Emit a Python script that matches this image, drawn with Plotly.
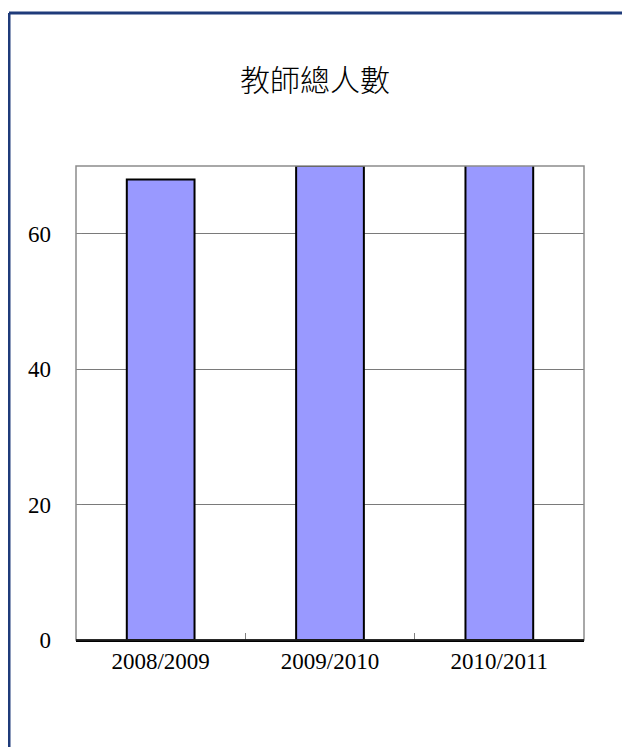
import plotly.graph_objects as go

categories = ["2008/2009", "2009/2010", "2010/2011"]
teachers = [68, 70, 72]
y_ticks = [0, 20, 40, 60]
title_text = "教師總人數"

# page body has an 8px margin, so the figure is offset by 8px
OFF = 8
W, H = 630 - OFF, 747 - OFF
L, R, T, B = 76 - OFF, 46, 166 - OFF, 107
pw, ph = W - L - R, H - T - B

def px_x(x):
    return (x - OFF - L) / pw

def px_y(y):
    return (H - B - (y - OFF)) / ph

fig = go.Figure(go.Bar(
    x=categories, y=teachers,
    marker=dict(color="#9999FF", line=dict(color="#000000", width=2)),
    width=0.4,
))

fig.update_layout(
    width=W, height=H,
    margin=dict(l=L, r=R, t=T, b=B),
    paper_bgcolor="white", plot_bgcolor="white",
    showlegend=False,
    title=dict(text=title_text, x=px_x(315), xref="paper", xanchor="center",
               y=1 - (80 - OFF) / H, yanchor="middle",
               font=dict(family="Noto Sans CJK TC", size=30, color="#000000", weight=300)),
    xaxis=dict(showgrid=False, showline=True, linecolor="#000000", linewidth=1.5,
               ticks="inside", tickson="boundaries", ticklen=7, tickcolor="#808080",
               tickfont=dict(family="Liberation Serif", size=23, color="#000000"),
               ticklabelstandoff=0),
    yaxis=dict(range=[0, 70], tickvals=y_ticks, showgrid=True, gridcolor="#7a7a7a", gridwidth=1,
               zeroline=False, showline=False, ticks="inside", ticklen=6, tickcolor="#808080",
               tickfont=dict(family="Liberation Serif", size=23, color="#000000"),
               ticklabelstandoff=24),
    shapes=[
        dict(type="rect", xref="paper", yref="paper", x0=0, x1=1, y0=0, y1=1,
             line=dict(color="#8c8c8c", width=1.5), layer="above"),
        dict(type="line", xref="paper", yref="paper", x0=0, x1=1, y0=0, y1=0,
             line=dict(color="#000000", width=1.5), layer="above"),
        dict(type="line", xref="paper", yref="paper",
             x0=px_x(9), x1=px_x(720), y0=px_y(13), y1=px_y(13),
             line=dict(color="#1F3B7A", width=3), layer="above"),
        dict(type="line", xref="paper", yref="paper",
             x0=px_x(9), x1=px_x(9), y0=px_y(13), y1=px_y(800),
             line=dict(color="#1F3B7A", width=3), layer="above"),
    ],
)

fig.write_html("out.html")
